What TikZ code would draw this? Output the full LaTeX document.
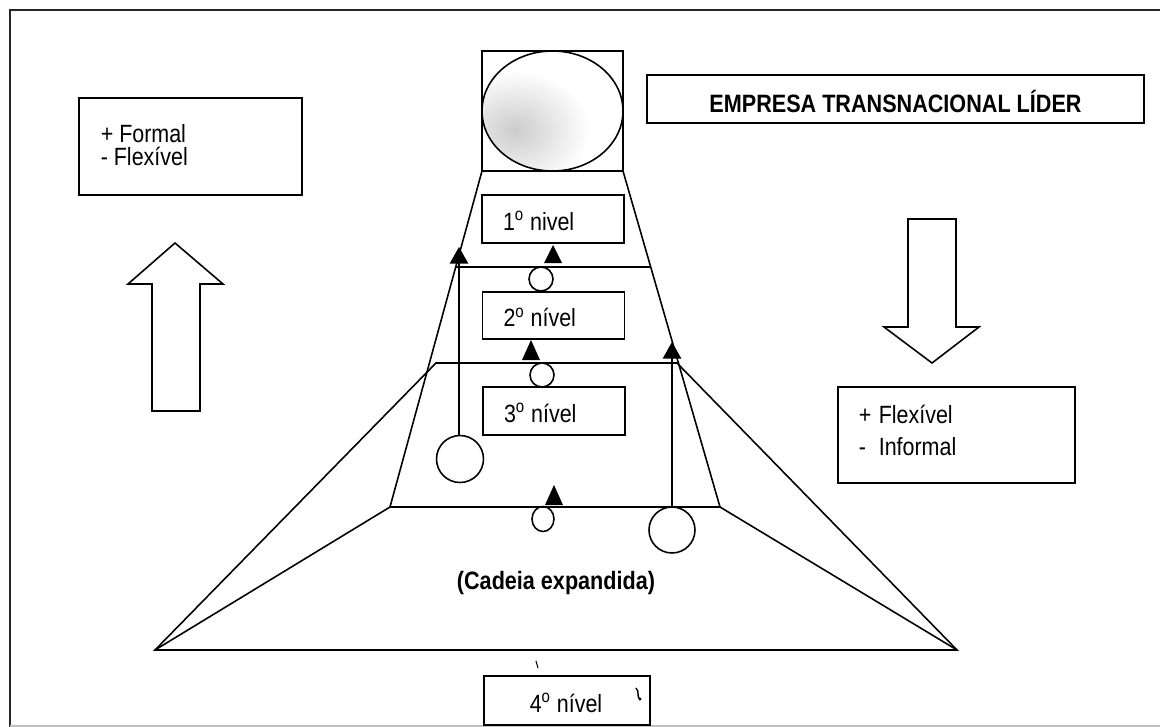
\documentclass[tikz,border=0pt]{standalone}
\usepackage{fontspec}
\setmainfont[FakeStretch=0.86]{Liberation Sans}
\usetikzlibrary{arrows.meta,shapes.geometric}

\newcommand{\ord}{\textsuperscript{o}}

\begin{document}
\begin{tikzpicture}[x=0.02cm, y=-0.02cm, line width=0.9pt,
  txt/.style={font=\fontsize{14.2}{16}\selectfont, inner sep=0pt},
  btxt/.style={font=\fontsize{14.3}{16}\selectfont\bfseries, inner sep=0pt},
  box/.style={draw, rectangle, inner sep=0pt},
  lvlbox/.style={box, minimum width=2.84cm, minimum height=0.95cm},
  ring/.style={draw, circle, inner sep=0pt},
  uptip/.style={-{Triangle[width=10.5pt,length=9.5pt]}},
  bigarrow/.style={draw, fill=white, line width=0.9pt, line join=miter}]
\useasboundingbox (0,0) rectangle (1161,727);

% page frame
\draw[line width=1pt, black!85] (1160,10) -- (10,10) -- (10,727);
\draw[line width=0.6pt, black!25] (10,726) -- (1160,726);

% corner points of the pyramid
\coordinate (A) at (482,171);
\coordinate (B) at (623,171);
\coordinate (C) at (390,507);
\coordinate (D) at (720,507);
\coordinate (E) at (436,363);
\coordinate (F) at (677,363);
\coordinate (L) at (155,650);
\coordinate (R) at (957,650);
\coordinate (H1l) at (456,267);
\coordinate (H1r) at (651,267);

% outer expanded chain
\draw (L) -- (E) -- (F) -- (R) -- cycle;
\draw (L) -- (C) -- (D) -- (R);
% pyramid sides and level separator
\draw (A) -- (C);
\draw (B) -- (D);
\draw (H1l) -- (H1r);

% leading company: square with shaded globe
\node[box, minimum width=2.82cm, minimum height=2.4cm, fill=white] (top) at (552.5,111) {};
\begin{scope}
  \clip (552.5,111) ellipse [x radius=70.5, y radius=60];
  \shade[inner color=black!20, outer color=white] (515,130) ellipse [x radius=75, y radius=60];
\end{scope}
\node[draw, ellipse, inner sep=0pt, minimum width=2.82cm, minimum height=2.4cm] (globe) at (552.5,111) {};

% title box
\node[box, minimum width=9.94cm, minimum height=0.96cm] (lider) at (895.5,99) {};
\node[btxt] at (895.5,101) {EMPRESA TRANSNACIONAL LÍDER};

% level boxes
\node[lvlbox] (n1) at (553,219) {};
\node[txt, anchor=west] at ([xshift=0.42cm, yshift=-0.04cm]n1.west) {1\ord{} nivel};
\node[lvlbox] (n2) at (553.5,315.5) {};
\node[txt, anchor=west] at ([xshift=0.42cm, yshift=-0.04cm]n2.west) {2\ord{} nível};
\node[lvlbox] (n3) at (554,411) {};
\node[txt, anchor=west] at ([xshift=0.42cm, yshift=-0.04cm]n3.west) {3\ord{} nível};
\node[box, minimum width=3.32cm, minimum height=0.98cm] (n4) at (567,700.5) {};
\node[txt] at (566,703) {4\ord{} nível};

% small stray pen marks
\draw[line width=0.6pt] (536,661) -- (538,668);
\draw[line width=0.8pt] (636,688) .. controls (640,692) and (636,695) .. (640,700);
\fill (640,699) circle (1.6);

% links between the levels
\node[ring, minimum size=0.48cm] (s1) at (541,279) {};
\node[ring, minimum size=0.48cm] (s2) at (542,375) {};
\node[draw, ellipse, inner sep=0pt, minimum width=0.44cm, minimum height=0.5cm] (s3) at (543,519) {};
\fill (544,263) -- (562,263) -- (553,245) -- cycle;
\fill (522,360) -- (540,360) -- (531,340) -- cycle;
\fill (545,505) -- (563,505) -- (554,485) -- cycle;

% suppliers reaching higher levels directly
\node[ring, minimum size=0.94cm] (lc) at (460,459) {};
\coordinate (lt) at (459,247);
\draw[uptip] (lc.north -| lt) -- (lt);
\node[ring, minimum size=0.92cm] (rc) at (672,530) {};
\coordinate (rt) at (672,342);
\draw[uptip] (rc.north) -- (rt);

% chain label
\node[btxt] (chain) at (556,583) {(Cadeia expandida)};

% left side: more formal
\node[box, minimum width=4.46cm, minimum height=1.94cm] (formal) at (190.5,146.5) {};
\node[txt, anchor=base west] at (100,142) {+ Formal};
\node[txt, anchor=base west] at (100,165) {- Flexível};
\draw[bigarrow] (175,243) -- (223,284) -- (200,284) -- (200,411) -- (152,411) -- (152,284) -- (128,284) -- cycle;

% right side: more flexible
\draw[bigarrow] (908,219) -- (956,219) -- (956,327) -- (979,327) -- (932,363) -- (884,327) -- (908,327) -- cycle;
\node[box, minimum width=4.74cm, minimum height=1.92cm] (flex) at (956.5,435) {};
\node[txt, anchor=base west] at (858,423) {+};
\node[txt, anchor=base west] at (878,423) {Flexível};
\node[txt, anchor=base west] at (858,455) {-};
\node[txt, anchor=base west] at (878,455) {Informal};
\end{tikzpicture}
\end{document}
